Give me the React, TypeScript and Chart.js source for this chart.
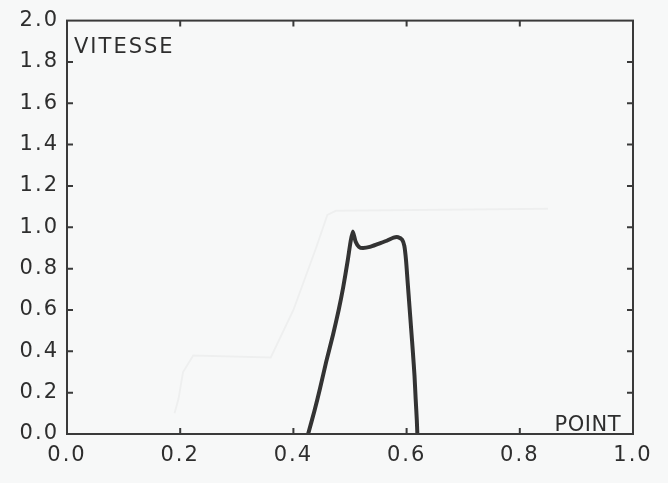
import React, { useEffect, useRef } from "react";
import { Chart, registerables } from "chart.js";

Chart.register(...registerables);

const curveX = [0.426, 0.437, 0.447, 0.458, 0.470, 0.480, 0.488, 0.496, 0.501, 0.505, 0.510, 0.516, 0.523, 0.535, 0.550, 0.565, 0.577, 0.585, 0.592, 0.596, 0.599, 0.602, 0.605, 0.608, 0.611, 0.614, 0.616, 0.618, 0.619];
const curveY = [0.00, 0.11, 0.22, 0.35, 0.48, 0.60, 0.71, 0.84, 0.93, 0.98, 0.93, 0.905, 0.90, 0.905, 0.92, 0.935, 0.95, 0.952, 0.94, 0.91, 0.84, 0.73, 0.62, 0.51, 0.40, 0.28, 0.17, 0.07, 0.00];

const ghostX = [0.190, 0.197, 0.205, 0.223, 0.360, 0.400, 0.440, 0.460, 0.475, 0.850];
const ghostY = [0.10, 0.17, 0.30, 0.38, 0.37, 0.60, 0.90, 1.06, 1.08, 1.09];

const xTicks = [0.0, 0.2, 0.4, 0.6, 0.8, 1.0];
const yTicks = [0.0, 0.2, 0.4, 0.6, 0.8, 1.0, 1.2, 1.4, 1.6, 1.8, 2.0];

const yLabel = "VITESSE";
const xLabel = "POINT";

const INK = "#2e2e2e";
const FONT = "'DejaVu Sans', sans-serif";

export default function App() {
  const ref = useRef<HTMLCanvasElement | null>(null);

  useEffect(() => {
    if (!ref.current) return;
    const framePlugin = {
      id: "frame",
      beforeDraw(chart: any) {
        chart.ctx.letterSpacing = "2px";
      },
      afterDraw(chart: any) {
        const { ctx, chartArea } = chart;
        const xs = chart.scales.x;
        const ys = chart.scales.y;
        const { left, right, top, bottom } = chartArea;
        ctx.save();
        ctx.strokeStyle = "#3a3a3a";
        ctx.lineWidth = 2;
        ctx.strokeRect(left, top, right - left, bottom - top);
        const tl = 6;
        ctx.beginPath();
        xTicks.slice(1, -1).forEach((v) => {
          const px = xs.getPixelForValue(v);
          ctx.moveTo(px, bottom);
          ctx.lineTo(px, bottom - tl);
          ctx.moveTo(px, top);
          ctx.lineTo(px, top + tl);
        });
        yTicks.slice(1, -1).forEach((v) => {
          const py = ys.getPixelForValue(v);
          ctx.moveTo(left, py);
          ctx.lineTo(left + tl, py);
          ctx.moveTo(right, py);
          ctx.lineTo(right - tl, py);
        });
        ctx.stroke();
        ctx.fillStyle = INK;
        ctx.font = `21px ${FONT}`;
        ctx.letterSpacing = "2px";
        ctx.textBaseline = "alphabetic";
        ctx.textAlign = "left";
        ctx.fillText(yLabel, left + 7, top + 32);
        ctx.letterSpacing = "0.5px";
        ctx.textAlign = "right";
        ctx.fillText(xLabel, right - 12, bottom - 3);
        ctx.restore();
      },
    };

    const chart = new Chart(ref.current, {
      type: "scatter",
      data: {
        datasets: [
          {
            data: ghostX.map((x, i) => ({ x, y: ghostY[i] })),
            showLine: true,
            borderColor: "rgba(0,0,0,0.035)",
            borderWidth: 2,
            pointRadius: 0,
            tension: 0,
          },
          {
            data: curveX.map((x, i) => ({ x, y: curveY[i] })),
            showLine: true,
            borderColor: "#333333",
            borderWidth: 4,
            pointRadius: 0,
            tension: 0.2,
            borderJoinStyle: "round",
            borderCapStyle: "round",
          },
        ],
      },
      options: {
        animation: false,
        responsive: false,
        maintainAspectRatio: false,
        layout: { padding: { top: 11, right: 35, left: 0, bottom: 0 } },
        plugins: { legend: { display: false }, tooltip: { enabled: false }, title: { display: false } },
        scales: {
          x: {
            type: "linear",
            min: 0,
            max: 1,
            afterBuildTicks: (s: any) => {
              s.ticks = xTicks.map((v) => ({ value: v }));
            },
            afterFit: (s: any) => {
              s.height = 49;
            },
            grid: { display: false, drawTicks: false },
            border: { display: false },
            ticks: {
              padding: 9,
              color: INK,
              font: { family: FONT, size: 21 },
              maxRotation: 0,
              autoSkip: false,
              callback: (v: any) => Number(v).toFixed(1),
            },
          },
          y: {
            type: "linear",
            min: 0,
            max: 2,
            afterBuildTicks: (s: any) => {
              s.ticks = yTicks.map((v) => ({ value: v }));
            },
            afterFit: (s: any) => {
              s.width = 67;
            },
            grid: { display: false, drawTicks: false },
            border: { display: false },
            ticks: {
              padding: 8,
              color: INK,
              font: { family: FONT, size: 21 },
              autoSkip: false,
              callback: (v: any) => Number(v).toFixed(1),
            },
          },
        },
      },
      plugins: [framePlugin],
    } as any);
    return () => chart.destroy();
  }, []);

  return (
    <div style={{ position: "fixed", left: 0, top: 0, width: 668, height: 483, background: "#f7f8f8" }}>
      <canvas ref={ref} width={668} height={483} style={{ width: 668, height: 483, display: "block" }} />
    </div>
  );
}
